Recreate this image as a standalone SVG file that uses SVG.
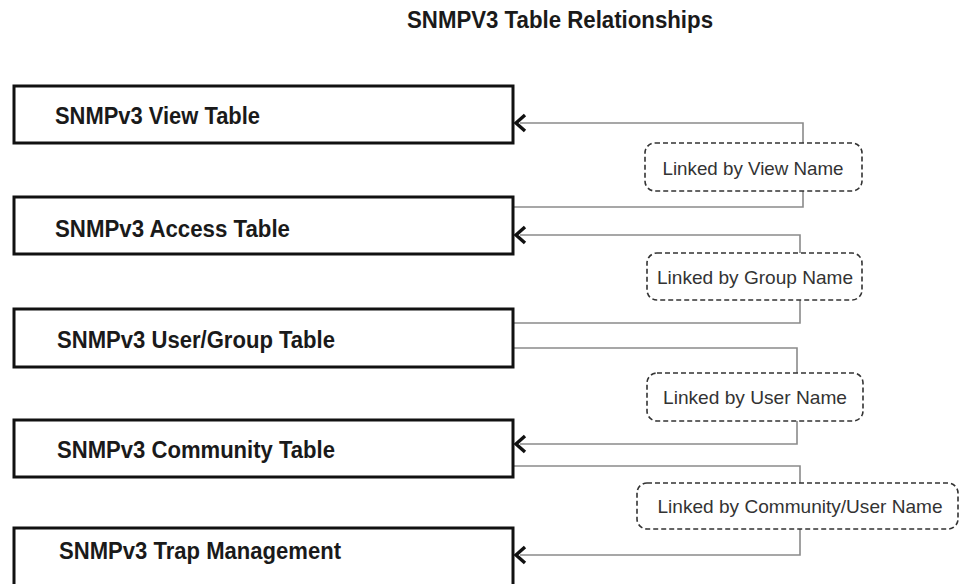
<svg xmlns="http://www.w3.org/2000/svg" width="966" height="584" viewBox="0 0 966 584">
<defs>
<style>
.tbl{fill:#fff;stroke:#111;stroke-width:3}
.tt{font-family:"Liberation Sans",Arial,sans-serif;font-weight:bold;font-size:23.5px;fill:#1a1a1a}
.lnk{fill:#fff;stroke:#333;stroke-width:1.6;stroke-dasharray:5 3}
.lt{font-family:"Liberation Sans",Arial,sans-serif;font-size:18.5px;fill:#333;text-anchor:middle}
.wire{fill:none;stroke:#8a8a8a;stroke-width:1.6}
.head{fill:none;stroke:#111;stroke-width:3.4;stroke-linejoin:miter}
</style>
</defs>
<rect width="966" height="584" fill="#fff"/>
<text x="560" y="28" text-anchor="middle" font-family="Liberation Sans, Arial, sans-serif" font-weight="bold" font-size="23" textLength="306" lengthAdjust="spacingAndGlyphs" fill="#1a1a1a">SNMPV3 Table Relationships</text>

<g id="connectors">
<path class="wire" d="M520 123 H803 V143"/>
<path class="wire" d="M803 191 V207 H513"/>
<path class="wire" d="M520 235 H800 V253"/>
<path class="wire" d="M800 300 V323 H513"/>
<path class="wire" d="M513 348 H797 V373"/>
<path class="wire" d="M797 421 V444 H520"/>
<path class="wire" d="M513 466 H800 V483"/>
<path class="wire" d="M800 529 V555 H520"/>
<path class="head" d="M525 115 L516 123 L525 131"/>
<path class="head" d="M525 227 L516 235 L525 243"/>
<path class="head" d="M525 436 L516 444 L525 452"/>
<path class="head" d="M525 547 L516 555 L525 563"/>
</g>

<g id="view-table"><rect class="tbl" x="14" y="86" width="499" height="57"/><text class="tt" x="55" y="124" textLength="205" lengthAdjust="spacingAndGlyphs">SNMPv3 View Table</text></g>
<g id="access-table"><rect class="tbl" x="14" y="197" width="499" height="57"/><text class="tt" x="55" y="237" textLength="235" lengthAdjust="spacingAndGlyphs">SNMPv3 Access Table</text></g>
<g id="usergroup-table"><rect class="tbl" x="14" y="309" width="499" height="58"/><text class="tt" x="57" y="348" textLength="278" lengthAdjust="spacingAndGlyphs">SNMPv3 User/Group Table</text></g>
<g id="community-table"><rect class="tbl" x="14" y="420" width="499" height="57"/><text class="tt" x="57" y="458" textLength="278" lengthAdjust="spacingAndGlyphs">SNMPv3 Community Table</text></g>
<g id="trap-management"><rect class="tbl" x="14" y="528" width="499" height="66"/><text class="tt" x="59" y="559" textLength="282" lengthAdjust="spacingAndGlyphs">SNMPv3 Trap Management</text></g>

<g id="link-view"><rect class="lnk" x="645" y="143" width="217" height="48" rx="10"/><text class="lt" x="753" y="175" textLength="181" lengthAdjust="spacingAndGlyphs">Linked by View Name</text></g>
<g id="link-group"><rect class="lnk" x="647" y="253" width="215" height="47" rx="10"/><text class="lt" x="755" y="284" textLength="196" lengthAdjust="spacingAndGlyphs">Linked by Group Name</text></g>
<g id="link-user"><rect class="lnk" x="647" y="373" width="216" height="48" rx="10"/><text class="lt" x="755" y="404" textLength="184" lengthAdjust="spacingAndGlyphs">Linked by User Name</text></g>
<g id="link-community-user"><rect class="lnk" x="637" y="483" width="321" height="46" rx="10"/><text class="lt" x="800" y="513" textLength="285" lengthAdjust="spacingAndGlyphs">Linked by Community/User Name</text></g>
</svg>
